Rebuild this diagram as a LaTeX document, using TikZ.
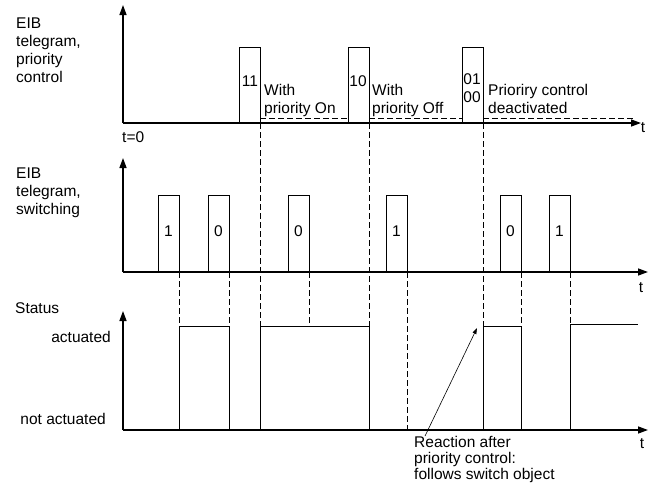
\documentclass[tikz,border=0pt]{standalone}
\usepackage{fontspec}
\setmainfont{Liberation Sans}
\usetikzlibrary{arrows.meta}
\begin{document}
\begin{tikzpicture}[x=1pt,y=-1pt,
  axis/.style={line width=1.4pt,-{Triangle[length=10pt,width=7pt]}},
  pulse/.style={line width=0.8pt},
  guide/.style={line width=0.8pt,dash pattern=on 6pt off 3pt},
  lbl/.style={font=\fontsize{15.5}{18}\selectfont,inner sep=0pt,align=left},
  plbl/.style={font=\fontsize{15.5}{18}\selectfont,inner sep=0pt,align=center}]
\useasboundingbox (0,0) rectangle (653,483);
% axes
\coordinate (o1) at (123,123); \coordinate (y1) at (123,5); \coordinate (x1) at (641,123);
\coordinate (o2) at (123,272); \coordinate (y2) at (123,158); \coordinate (x2) at (648,272);
\coordinate (o3) at (123,430); \coordinate (y3) at (123,311); \coordinate (x3) at (648,430);
\draw[axis] (o1) -- (y1); \draw[axis] (o1) -- (x1);
\draw[axis] (o2) -- (y2); \draw[axis] (o2) -- (x2);
\draw[axis] (o3) -- (y3); \draw[axis] (o3) -- (x3);
% priority telegrams
\draw[pulse] (239,123) |- (260,47) -- (260,123);
\draw[pulse] (348,123) |- (369,47) -- (369,123);
\draw[pulse] (462,123) |- (483,47) -- (483,123);
\draw[guide] (260,118) -- (348,118);
\draw[guide] (369,118) -- (462,118);
\draw[guide] (483,118) -- (633,118);
% switching telegrams
\foreach \a/\b in {158/179,208/229,288/309,386/407,500/521,549/570}
  \draw[pulse] (\a,272) |- (\b,195) -- (\b,272);
% status
\draw[pulse] (179,430) |- (229,326) -- (229,430);
\draw[pulse] (260,430) |- (369,326) -- (369,430);
\draw[pulse] (483,430) |- (521,326) -- (521,430);
\draw[pulse] (570,430) |- (638,324);
% guides
\draw[guide] (260,123) -- (260,326);
\draw[guide] (369,123) -- (369,326);
\draw[guide] (483,123) -- (483,326);
\draw[guide] (179,272) -- (179,326);
\draw[guide] (229,272) -- (229,326);
\draw[guide] (309,272) -- (309,326);
\draw[guide] (407,272) -- (407,430);
\draw[guide] (521,272) -- (521,326);
\draw[guide] (570,272) -- (570,324);
% labels
\node[lbl,anchor=west] (lA) at (16,50) {EIB\\telegram,\\priority\\control};
\node[lbl,anchor=west] (lB) at (16,193) {EIB\\telegram,\\switching};
\node[lbl,anchor=base west] (lS) at (15,313) {Status};
\node[lbl,anchor=base east] (lAct) at (111,342) {actuated};
\node[lbl,anchor=base east] (lNot) at (106,424) {not actuated};
\node[lbl,anchor=base west] (t0) at (122,142) {t=0};
\node[lbl,anchor=base] (t1) at (643,132) {t};
\node[lbl,anchor=base] (t2) at (641,292) {t};
\node[lbl,anchor=base] (t3) at (642,448) {t};
\node[plbl,anchor=base] (p11) at (250,86) {11};
\node[plbl,anchor=base] (p10) at (358,86) {10};
\node[plbl] (p01) at (472,88.5) {01\\00};
\node[lbl,anchor=west] (wOn) at (264,100) {With\\priority On};
\node[lbl,anchor=west] (wOff) at (372,100) {With\\priority Off};
\node[lbl,anchor=west] (deact) at (488,98.5) {Prioriry control\\deactivated};
\foreach \n/\x/\v in {s1/168.5/1,s2/218.5/0,s3/298.5/0,s4/396.5/1,s5/510.5/0,s6/559.5/1}
  \node[plbl,anchor=base] (\n) at (\x,236) {\v};
\node[lbl,anchor=west,font=\fontsize{15.5}{16}\selectfont] (reac) at (414,459.5) {Reaction after\\priority control:\\follows switch object};
\coordinate (reactip) at (477,328);
\draw[line width=0.6pt,-{Triangle[length=6pt,width=4pt]}] ([xshift=11pt]reac.north west) -- (reactip);
\end{tikzpicture}
\end{document}
